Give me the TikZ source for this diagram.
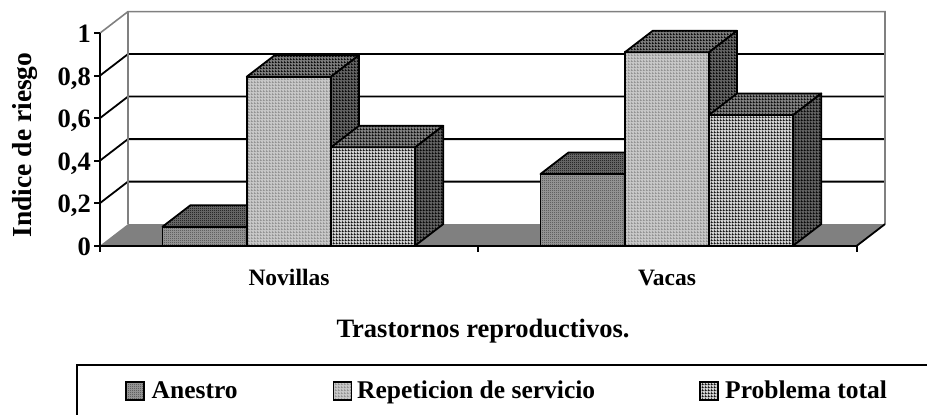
\documentclass[tikz,border=0pt]{standalone}
\usepackage{fontspec}
\setmainfont{Liberation Serif}
\usetikzlibrary{patterns}
\pgfdeclarepatternformonly{chk}{\pgfpointorigin}{\pgfqpoint{2pt}{2pt}}{\pgfqpoint{2pt}{2pt}}{%
 \pgfpathrectangle{\pgfpointorigin}{\pgfqpoint{1pt}{1pt}}%
 \pgfpathrectangle{\pgfqpoint{1pt}{1pt}}{\pgfqpoint{1pt}{1pt}}%
 \pgfusepath{fill}}
\pgfdeclarepatternformonly{fgrid}{\pgfpointorigin}{\pgfqpoint{3pt}{3pt}}{\pgfqpoint{3pt}{3pt}}{%
 \pgfsetlinewidth{0.7pt}%
 \pgfpathmoveto{\pgfqpoint{0pt}{0.35pt}}\pgfpathlineto{\pgfqpoint{3pt}{0.35pt}}%
 \pgfpathmoveto{\pgfqpoint{0.35pt}{0pt}}\pgfpathlineto{\pgfqpoint{0.35pt}{3pt}}%
 \pgfusepath{stroke}}
\pgfdeclarepatternformonly{sgrid}{\pgfpointorigin}{\pgfqpoint{2.5pt}{2.5pt}}{\pgfqpoint{2.5pt}{2.5pt}}{%
 \pgfsetlinewidth{0.6pt}%
 \pgfpathmoveto{\pgfqpoint{0pt}{0.3pt}}\pgfpathlineto{\pgfqpoint{2.5pt}{0.3pt}}%
 \pgfpathmoveto{\pgfqpoint{0.3pt}{0pt}}\pgfpathlineto{\pgfqpoint{0.3pt}{2.5pt}}%
 \pgfusepath{stroke}}
\newcommand\mybar[5]{%
 \path[face,#3] (#1,245.6) rectangle (#1+84.25,#2);
 \path[face,#4] (#1,#2) -- ++(28,-21.5) -- ++(84.25,0) -- ++(-28,21.5) -- cycle;
 \path[face,#5] (#1+84.25,#2) -- ++(28,-21.5) -- (#1+112.25,224.1) -- (#1+84.25,245.6) -- cycle;
}
\tikzset{
 face/.style={draw=black, line width=1.8pt, line join=round},
 aF/.style={preaction={fill=black!38}, pattern=chk, pattern color=black!75},
 aT/.style={preaction={fill=black!55}, pattern=chk, pattern color=black},
 aS/.style={preaction={fill=black!62}, pattern=chk, pattern color=black},
 rF/.style={preaction={fill=black!22}, pattern=sgrid, pattern color=black!45},
 rT/.style={preaction={fill=black!52}, pattern=sgrid, pattern color=black},
 rS/.style={preaction={fill=black!62}, pattern=sgrid, pattern color=black},
 pF/.style={preaction={fill=black!18}, pattern=fgrid, pattern color=black},
 pT/.style={preaction={fill=black!50}, pattern=fgrid, pattern color=black},
 pS/.style={preaction={fill=black!62}, pattern=fgrid, pattern color=black},
 wall/.style={draw=gray, line width=1.6pt},
 grid/.style={draw=black, line width=1.8pt},
 axis/.style={draw=black, line width=1.8pt},
 tick/.style={font=\fontsize{26.5}{30}\selectfont\bfseries, anchor=base east, inner sep=0pt},
 cat/.style={font=\fontsize{23.5}{28}\selectfont\bfseries, anchor=base, inner sep=0pt},
 leg/.style={font=\fontsize{25.5}{30}\selectfont\bfseries, anchor=base west, inner sep=0pt},
 icon/.style={draw=black, line width=1.5pt},
}
\begin{document}
\begin{tikzpicture}[x=1pt,y=-1pt]
\useasboundingbox (0,0) rectangle (927,415);
\clip (0,0) rectangle (927,415);
% back wall
\fill[white] (128,12) rectangle (885,224.1);
\foreach \v in {0.2,0.4,0.6,0.8}{
  \draw[grid] (100,245.6-\v*212.5) -- (128,224.1-\v*212.5) -- (885,224.1-\v*212.5);
}
\draw[wall] (100,33.1) -- (128,11.6) -- (885,11.6) -- (885,224.1);
\draw[wall] (128,11.6) -- (128,224.1);
% floor
\fill[gray] (100,245.6) -- (128,224.1) -- (885,224.1) -- (857,245.6) -- cycle;
\draw[axis] (857,245.6) -- (885,224.1);
% bars Novillas
\mybar{162.5}{226.7}{aF}{aT}{aS}
\mybar{246.75}{76.7}{rF}{rT}{rS}
\mybar{331}{147.3}{pF}{pT}{pS}
% bars Vacas
\mybar{540.5}{174}{aF}{aT}{aS}
\mybar{624.75}{52.3}{rF}{rT}{rS}
\mybar{709}{115}{pF}{pT}{pS}
% axes
\draw[axis] (100,33.1) -- (100,245.6) -- (857,245.6);
\foreach \v in {0,0.2,0.4,0.6,0.8,1}{
  \draw[axis] (94,245.6-\v*212.5) -- (100,245.6-\v*212.5);
}
\foreach \xx in {100,478,857}{
  \draw[axis] (\xx,245.6) -- (\xx,252);
}
% tick labels
\node[tick] (l0) at (91,255.1) {0};
\node[tick] (l2) at (91,212.6) {0,2};
\node[tick] (l4) at (91,170.1) {0,4};
\node[tick] (l6) at (91,127.6) {0,6};
\node[tick] (l8) at (91,85.1) {0,8};
\node[tick] (l10) at (91,42.6) {1};
\node[font=\fontsize{27.5}{30}\selectfont\bfseries, rotate=90, anchor=base, inner sep=0pt] (ytitle) at (31.5,145) {Indice de riesgo};
% category labels
\node[cat] (cn) at (289,285) {Novillas};
\node[cat] (cv) at (667,285) {Vacas};
\node[font=\fontsize{26.5}{30}\selectfont\bfseries, anchor=base, inner sep=0pt] (xtitle) at (483,337.6) {Trastornos reproductivos.};
% legend
\draw[black, line width=1.8pt] (77,365) rectangle (940,430);
\path[icon, aF] (126,382) rectangle (144,400);
\node[leg] (la) at (151.5,398.3) {Anestro};
\path[icon, rF] (333.5,382) rectangle (351.5,400);
\node[leg] (lr) at (357,398.3) {Repeticion de servicio};
\path[icon, pF] (700,382) rectangle (718,400);
\node[leg] (lp) at (725,398.3) {Problema total};
\end{tikzpicture}
\end{document}
